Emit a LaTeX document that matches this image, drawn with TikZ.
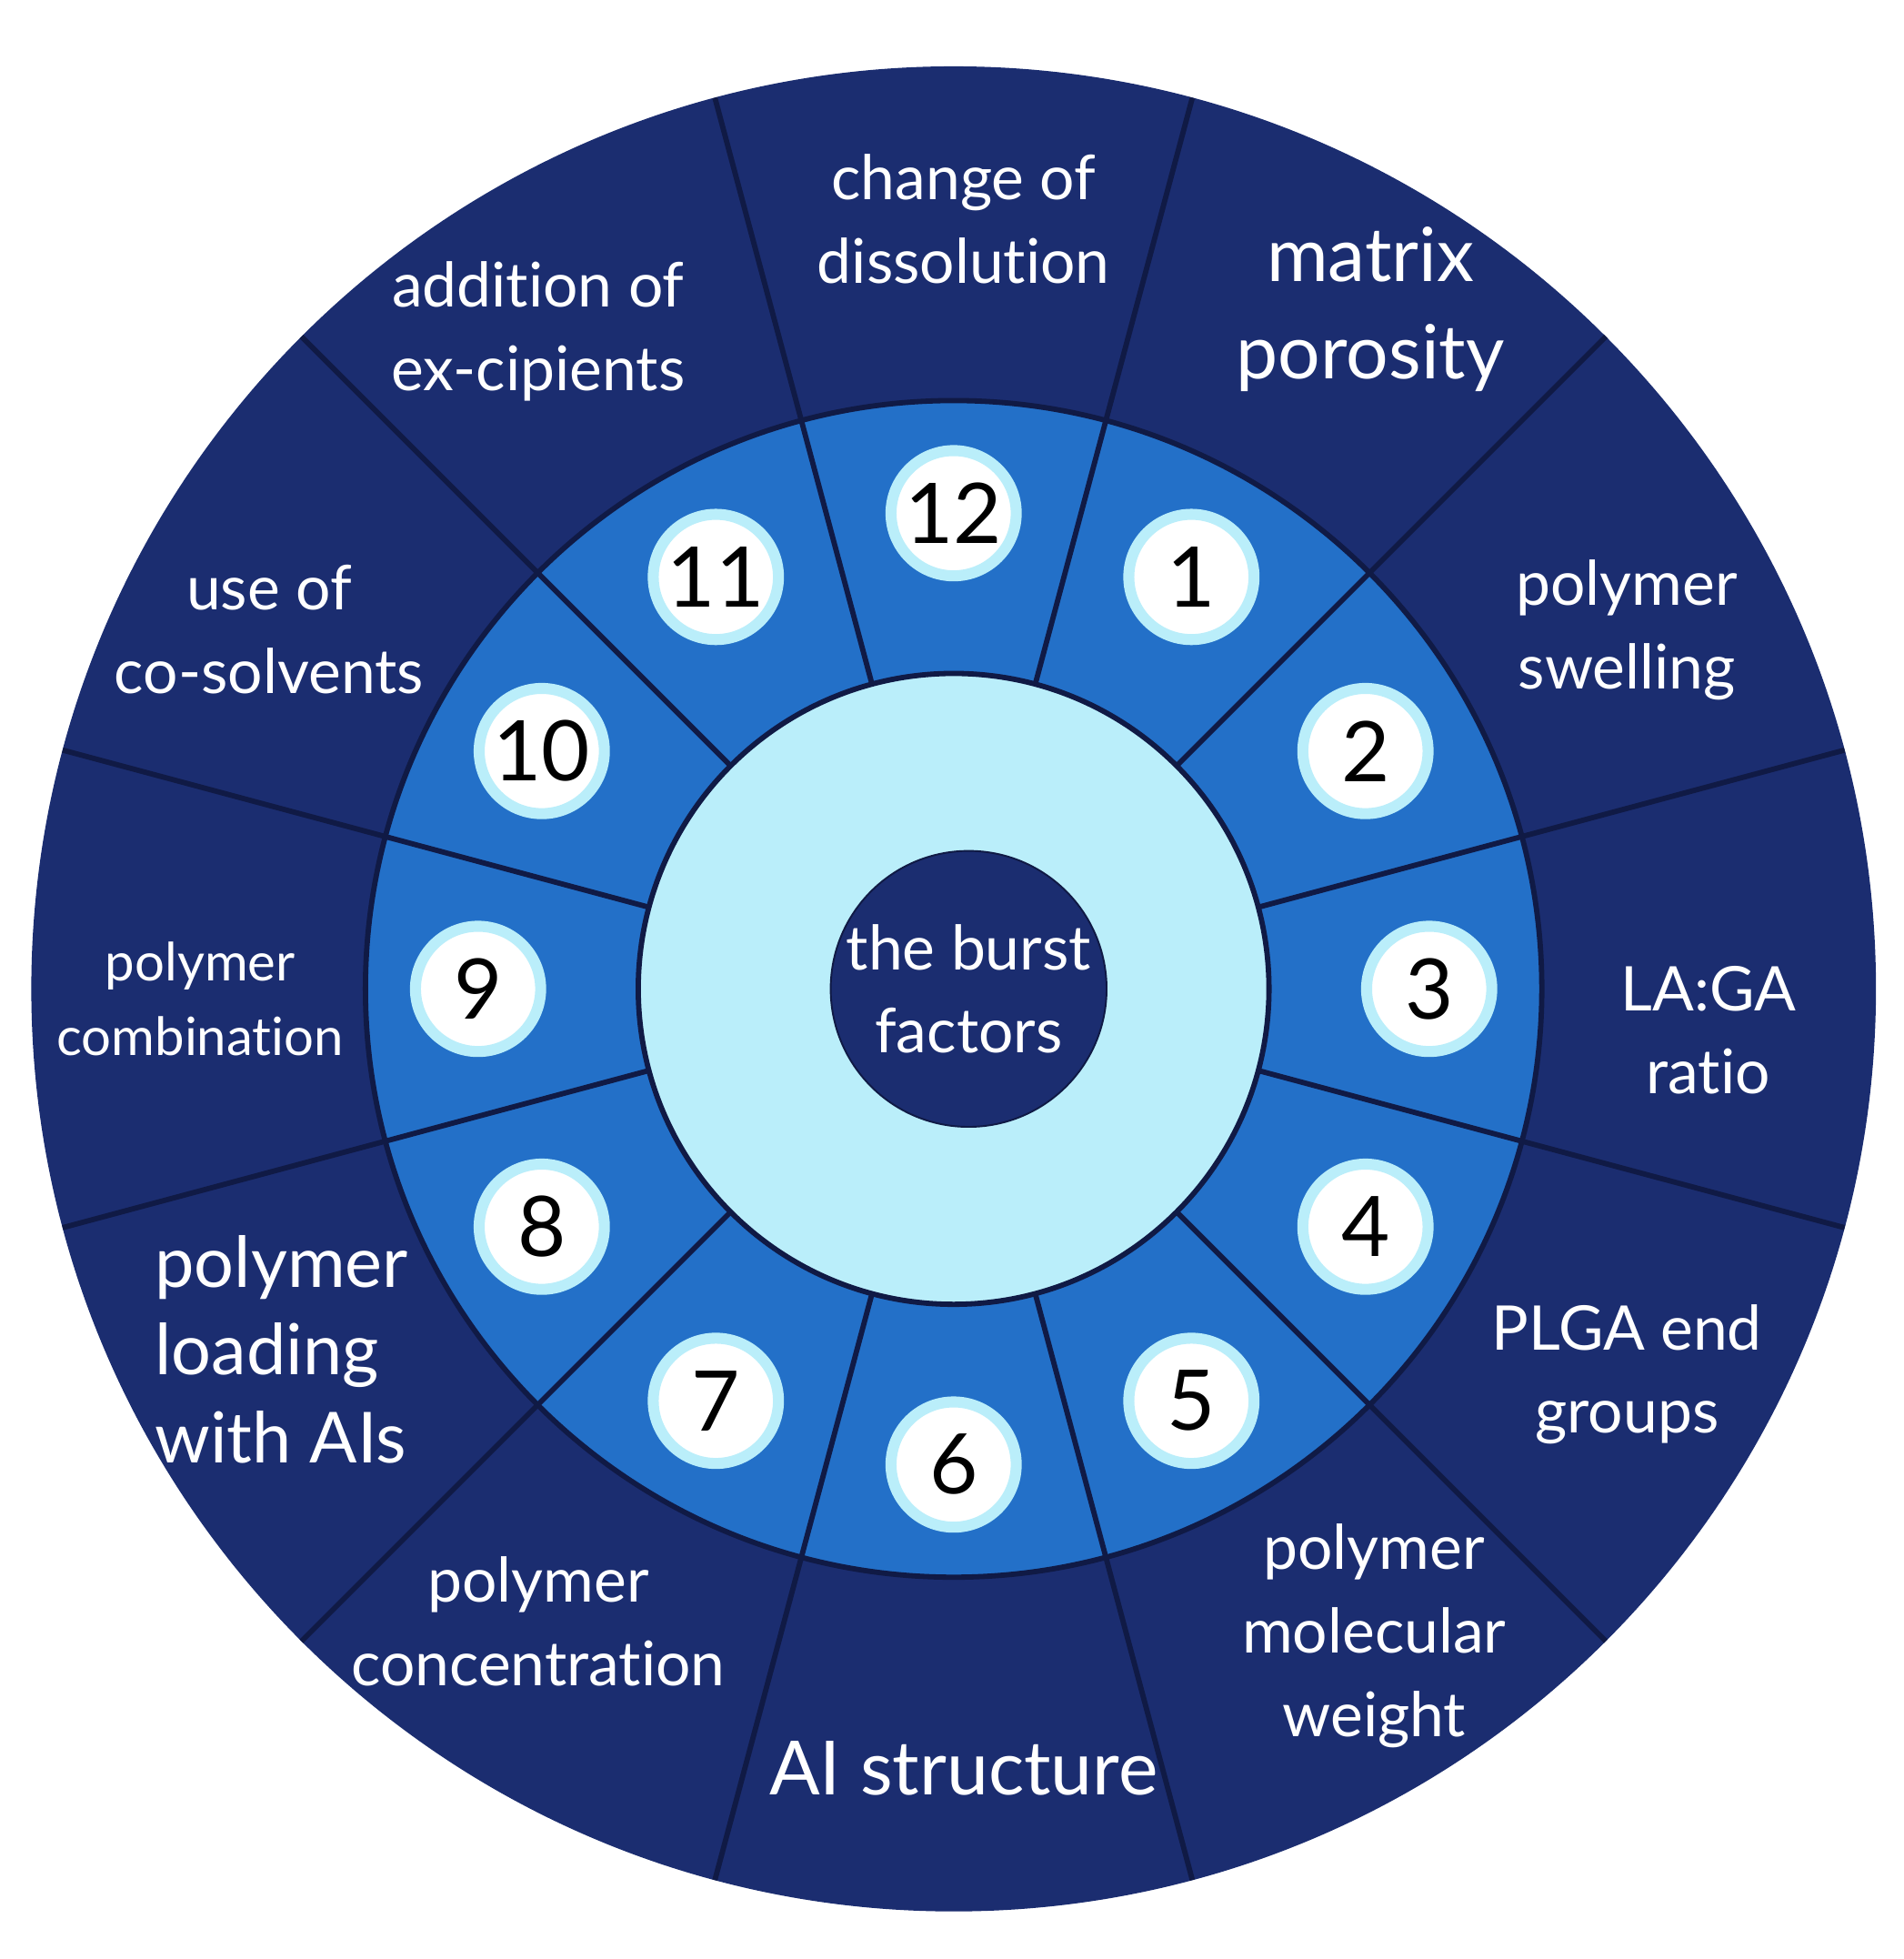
\documentclass[tikz,border=0pt]{standalone}
\usepackage{fontspec}
\setmainfont{Lato}[Ligatures=NoCommon]
\usetikzlibrary{calc,positioning}
\definecolor{navy}{HTML}{1B2D70}
\definecolor{midblue}{HTML}{2370C8}
\definecolor{paleblue}{HTML}{BAEEFA}
\definecolor{rimline}{HTML}{101A45}
\tikzset{
  factor/.style={text=white, align=center, font=\fontsize{14}{19}\selectfont},
  bigfactor/.style={factor, font=\fontsize{17}{22}\selectfont},
  numdot/.style={circle, fill=white, draw=paleblue, line width=2.5pt,
    minimum size=1.0cm, inner sep=0pt, font=\fontsize{19}{19}\selectfont}
}
\begin{document}
\begin{tikzpicture}[x=0.01cm, y=0.01cm]
    \useasboundingbox (0,0) rectangle (1521,1565);
    \coordinate (c) at (762,775);

    % Rings
    \fill[navy] (c) circle (737);
    \fill[midblue] (c) circle (470);
    \foreach \a in {15,45,...,345}
        \draw[rimline, line width=1.2pt] ($(c)+(\a:250)$) -- ($(c)+(\a:737)$);
    \draw[rimline, line width=1.2pt] (c) circle (470);
    \draw[rimline, line width=1.2pt, fill=paleblue] (c) circle (252);
    \node[circle, fill=navy, draw=rimline, minimum size=2.2cm, inner sep=0pt,
        text=white, align=center, font=\fontsize{14}{19}\selectfont] (core) at ($(c)+(12,0)$) {the burst\\factors};

    % Numbered dots
    \foreach \k in {1,...,12}
        \node[numdot] (num\k) at ($(c)+({90-30*\k}:380)$) {\k};

    % Factor labels
    \node[factor] (out12) at (770,1390) {change of\\dissolution};
    \node[bigfactor] (out1) at (1095,1318) {matrix\\porosity};
    \node[factor] (out2) at (1300,1062) {polymer\\swelling};
    \node[factor] (out3) at (1365,742) {LA:GA\\ratio};
    \node[factor] (out4) at (1300,467) {PLGA end\\groups};
    \node[factor] (out5) at (1098,258) {polymer\\molecular\\weight};
    \node[bigfactor] (out6) at (770,152) {AI structure};
    \node[factor] (out7) at (430,270) {polymer\\concentration};
    \node[factor, align=left, font=\fontsize{16}{20}\selectfont] (out8) at (225,487) {polymer\\loading\\with AIs};
    \node[factor, font=\fontsize{12}{17}\selectfont] (out9) at (160,767) {polymer\\combination};
    \node[factor] (out10) at (215,1062) {use of\\co-solvents};
    \node[factor] (out11) at (430,1300) {addition of\\ex-cipients};
\end{tikzpicture}
\end{document}
